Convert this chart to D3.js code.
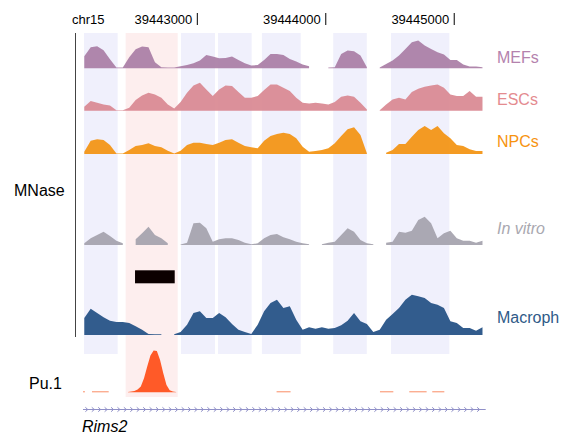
<!DOCTYPE html>
<html>
<head>
<meta charset="utf-8">
<script src="https://cdn.jsdelivr.net/npm/d3@7"></script>
<style>
body { margin: 0; background: #fff; }
text { font-family: "Liberation Sans", Arial, Helvetica, sans-serif; }
</style>
</head>
<body>
<div id="chart"></div>
<script>
const chrom = "chr15";
const regionStart = 39442110, regionEnd = 39445245;
const axisTicks = [39443000, 39444000, 39445000];

// MNase coverage, 50 bp bins starting at binStart (null = no data)
const binStart = 39442120, binSize = 50;
const trackNames = ["MEFs", "ESCs", "NPCs", "In vitro", "Macroph"];
const mefs = [12, 21, 22, 18, 9, 0.7, 0.7, 11, 19, 21.7,
    21, 6, 1, 0.7, 0.7, 2, 3.3, 5, 7.7, 13.3,
    11.7, 10, 10.3, 11.7, 8.3, 5, 2.7, 3.3, 8.3, 14.3,
    14.3, 13.3, 9.3, 6.7, 3.7, 2, null, null, 0.7, 1,
    14.3, 17.7, 17, 12.7, 1, null, 0.7, 4.3, 7.7, 12.7,
    19.3, 26, 27.7, 22.7, 19.3, 16, 13.7, 8.3, 8.3, 3.7,
    1.7, 1.7, 1];
const escs = [4, 9.7, 8, 6.3, 5.3, 0.5, 0.5, 3, 10.7, 15.3,
    18, 16.3, 13, 6.3, 2.3, 8.7, 18, 25.3, 28, 21.3,
    14.7, 21.3, 25.3, 24.7, 18.7, 13, 13, 14.7, 20.7, 26.3,
    26.3, 23, 19.7, 13, 8, 7.3, 8, 7.3, 6.3, 8.7,
    14, 15.3, 14, 8, 1.3, null, 0.5, 6.3, 11.3, 13,
    11.3, 18.7, 22, 24, 25.3, 26.3, 23, 16.3, 14.7, 14.7,
    19.7, 14, 14];
const npcs = [2.3, 13.3, 14.7, 14, 9, 0.5, 0.5, 4, 8, 9,
    10.7, 8, 6.7, 3.3, 0.5, 3.3, 9, 11.3, 11.3, 10,
    9, 11.3, 14, 14.7, 11.3, 8, 6.7, 5.7, 13.3, 18,
    20, 21.3, 20, 15.7, 7.3, 2.3, 3, 4, 5.7, 10.7,
    18, 24.7, 26.7, 19, 0.7, null, null, 1.3, 4, 10,
    10, 17.3, 24, 28, 24, 28, 20.7, 15.7, 9, 8,
    4.7, 3, 3];
const invitro = [1.7, 6.7, 10, 13.3, 9, 4.3, 1.7, null, 5.7, 11.7,
    18.3, 10, 6.7, 1.7, null, 0.5, 2.3, 21.7, 22.3, 16.7,
    3.3, 5.7, 6.7, 6.7, 5, 2.3, 0.7, 1.7, 6.7, 10,
    11, 7.7, 5.7, 3.3, 1.7, 0.7, null, 0.7, 2.3, 3.3,
    10, 16.7, 13.3, 5, 1.7, 0.7, null, 2.3, 3.3, 13.3,
    12.3, 14.3, 25, 28.3, 21.7, 6.7, 11.7, 14.3, 6.7, 4.3,
    4.3, 2.3, 4.3];
const macroph = [17, 26.3, 22, 17.7, 14.3, 13, 13, 12, 8.7, 5.3,
    1, 0.7, 0.7, null, 0.7, 3, 10.3, 22, 23.7, 17,
    17, 22, 17.7, 11, 5.3, 3, 1, 10.3, 23.7, 32,
    35.3, 27, 28.7, 15.3, 5.3, 7.7, 6.3, 7.7, 6.3, 7,
    9.7, 14.3, 22, 13.7, 11, 3, 5.3, 15.3, 21, 27,
    35.3, 40.3, 38.7, 37, 32, 30.3, 27, 13.7, 12, 7,
    7, 4.3, 7.7];

// highlighted nucleosome regions
const blueRegions = [[39442118, 39442380], [39442873, 39443138], [39443161, 39443423],
    [39443503, 39443805], [39444058, 39444319], [39444508, 39444962]];
const pinkRegions = [[39442442, 39442847]];
const motifBox = [39442515, 39442824];

// Pu.1 ChIP
const pu1Segments = [[39442110, 39442125], [39442180, 39442310], [39443617, 39443726],
    [39444422, 39444526], [39444650, 39444785], [39444829, 39444923]];
const pu1PeakStart = 39442460, pu1Step = 25;
const pu1Peak = [0.3, 0.7, 1.3, 2.7, 5.7, 14, 25.7, 36.7, 41.7, 41.3, 32.3, 19, 7.3, 2, 0.7, 0.3];

const gene = { name: "Rims2", start: 39442110, end: 39445245 };

const svg = d3.select("#chart")
    .append("svg")
    .attr("width", 561)
    .attr("height", 436);

const x = d3.scaleLinear()
    .domain([regionStart, regionEnd])
    .range([83, 485.7]);

const h = d3.scaleLinear().domain([0, 45]).range([0, 45]);

svg.selectAll(".hl-blue")
    .data(blueRegions)
    .enter().append("rect")
    .attr("x", d => x(d[0]))
    .attr("width", d => x(d[1]) - x(d[0]))
    .attr("y", 33)
    .attr("height", 321)
    .attr("fill", "#f0f0fc");

svg.selectAll(".hl-pink")
    .data(pinkRegions)
    .enter().append("rect")
    .attr("x", d => x(d[0]))
    .attr("width", d => x(d[1]) - x(d[0]))
    .attr("y", 33)
    .attr("height", 364)
    .attr("fill", "#fdeeee");

// top coordinate header
svg.append("text")
    .attr("x", 72)
    .attr("y", 24)
    .attr("font-size", 13)
    .text(chrom);

const tick = svg.selectAll(".tick")
    .data(axisTicks)
    .enter().append("g")
    .attr("transform", d => `translate(${x(d)},0)`);
tick.append("text")
    .attr("x", -5)
    .attr("y", 24)
    .attr("font-size", 13)
    .attr("text-anchor", "end")
    .text(d => d);
tick.append("line")
    .attr("y1", 13)
    .attr("y2", 25)
    .attr("stroke", "#000");

svg.append("line")
    .attr("x1", 75.5).attr("x2", 75.5)
    .attr("y1", 33).attr("y2", 337)
    .attr("stroke", "#444");

const tracks = [
    { values: mefs, base: 68.3, color: "#a77aa3", labelColor: "#b482ad", labelY: 63.3, op: 0.9 },
    { values: escs, base: 110.7, color: "#d8858f", labelColor: "#e48b8f", labelY: 105, op: 0.9 },
    { values: npcs, base: 154, color: "#f39310", labelColor: "#f7930f", labelY: 147.3, op: 0.92 },
    { values: invitro, base: 245, color: "#a4a2ac", labelColor: "#a9a8b0", labelY: 234.3, italic: true, op: 0.92 },
    { values: macroph, base: 335, color: "#2b5789", labelColor: "#2f5a88", labelY: 322.7, op: 0.97 }
];

tracks.forEach((t, i) => {
    const pts = t.values.map((v, j) => ({ pos: binStart + j * binSize, v: v }));
    const area = d3.area()
        .defined(d => d.v != null)
        .x(d => x(d.pos))
        .y0(t.base)
        .y1(d => t.base - h(d.v));
    svg.append("path")
        .datum(pts)
        .attr("fill", t.color)
        .attr("fill-opacity", t.op)
        .attr("d", area);
    svg.append("text")
        .attr("x", 497)
        .attr("y", t.labelY)
        .attr("font-size", 16)
        .attr("font-style", t.italic ? "italic" : null)
        .attr("fill", t.labelColor)
        .text(trackNames[i]);
});

svg.append("rect")
    .attr("x", x(motifBox[0]))
    .attr("width", x(motifBox[1]) - x(motifBox[0]))
    .attr("y", 270.3)
    .attr("height", 13)
    .attr("fill", "#0c0000");

svg.append("text")
    .attr("x", 14)
    .attr("y", 196)
    .attr("font-size", 16)
    .text("MNase");

// Pu.1 track
const puBase = 392.3;
svg.selectAll(".pu-seg")
    .data(pu1Segments)
    .enter().append("line")
    .attr("x1", d => x(d[0]))
    .attr("x2", d => x(d[1]))
    .attr("y1", puBase - 0.5)
    .attr("y2", puBase - 0.5)
    .attr("stroke", "#fa8c64")
    .attr("stroke-width", 1);

const puArea = d3.area()
    .x((d, i) => x(pu1PeakStart + i * pu1Step))
    .y0(puBase)
    .y1(d => puBase - h(d));
svg.append("path")
    .datum(pu1Peak)
    .attr("fill", "#ff5a28")
    .attr("d", puArea);

svg.append("text")
    .attr("x", 29)
    .attr("y", 389)
    .attr("font-size", 16)
    .text("Pu.1");

// gene model
const geneY = 409.5;
svg.append("line")
    .attr("x1", x(gene.start))
    .attr("x2", x(gene.end))
    .attr("y1", geneY)
    .attr("y2", geneY)
    .attr("stroke", "#9090c8");
svg.selectAll(".chev")
    .data(d3.range(gene.start + 30, gene.end - 10, 50))
    .enter().append("path")
    .attr("d", d => `M${x(d) - 1.5},${geneY - 2.2}L${x(d) + 1},${geneY}L${x(d) - 1.5},${geneY + 2.2}`)
    .attr("fill", "none")
    .attr("stroke", "#9090c8")
    .attr("stroke-width", 1);

svg.append("text")
    .attr("x", 82)
    .attr("y", 432)
    .attr("font-size", 16)
    .attr("font-style", "italic")
    .text(gene.name);
</script>
</body>
</html>
